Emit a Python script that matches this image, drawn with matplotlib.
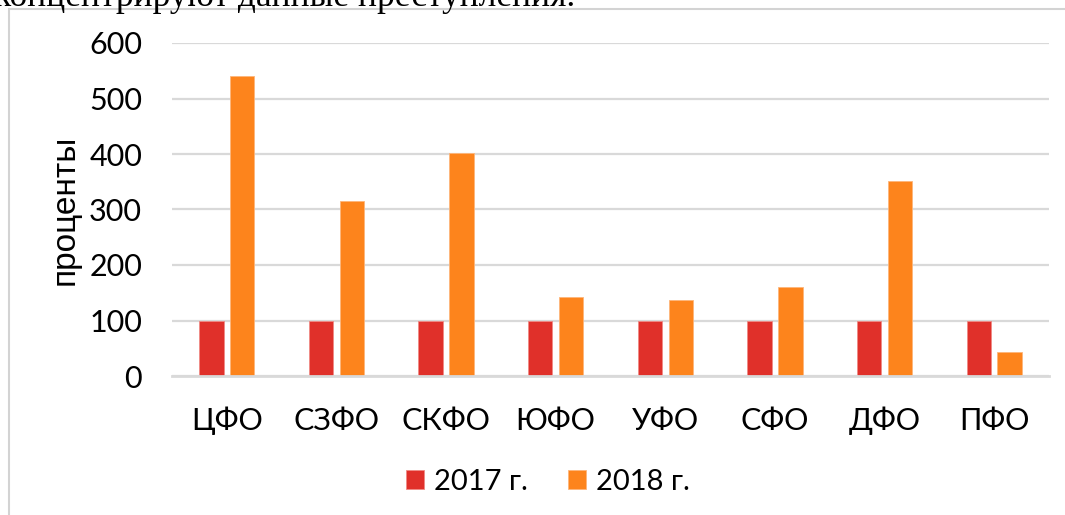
import matplotlib
matplotlib.use("Agg")
import matplotlib.pyplot as plt
from matplotlib.patches import Rectangle
import numpy as np

regions = ["ЦФО", "СЗФО", "СКФО", "ЮФО", "УФО", "СФО", "ДФО", "ПФО"]
values_2017 = [100, 100, 100, 100, 100, 100, 100, 100]
values_2018 = [541, 315, 401, 143, 137, 160, 351, 43]
series_names = ["2017 г.", "2018 г."]
yticks = [0, 100, 200, 300, 400, 500, 600]

RED = "#E0302A"
ORANGE = "#FD841C"
GRID = "#D9D9D9"
W, H = 1065, 515

fig = plt.figure(figsize=(W / 100, H / 100), dpi=100)

# frame of the embedded chart (cut off on the right and bottom)
fig.patches.append(Rectangle((8.5 / W, -0.1), 1.2, 1 - 9.5 / H + 0.1,
                             transform=fig.transFigure, fill=False,
                             edgecolor="#D3D3D3", linewidth=1.5))

# tail of the paragraph above the chart, cut by the top edge
fig.text(575 / W, 1 - 6 / H, "концентрируют данные преступления.",
         ha="right", va="baseline", fontsize=25.5,
         family="Liberation Serif", color="black")

ax = fig.add_axes([172 / W, 1 - 376 / H, 877 / W, 333 / H])
x = np.arange(len(regions))
bw = 0.223
off = 0.141
ax.bar(x - off, values_2017, bw, color=RED, edgecolor="#F08A85",
       linewidth=0.6, label=series_names[0], zorder=3)
ax.bar(x + off, values_2018, bw, color=ORANGE, edgecolor="#FDB67A",
       linewidth=0.6, label=series_names[1], zorder=3)

ax.set_xlim(-0.5, len(regions) - 0.5)
ax.set_ylim(0, 600)
ax.set_yticks(yticks)
ax.set_xticks(x)
ax.set_xticklabels(regions)
ax.grid(axis="y", color=GRID, linewidth=1.6, zorder=0)
for s in ["top", "right", "left"]:
    ax.spines[s].set_visible(False)
ax.spines["bottom"].set_color(GRID)
ax.spines["bottom"].set_linewidth(2)
ax.spines["bottom"].set_zorder(4)
ax.tick_params(axis="both", length=0, labelsize=22, colors="black")
ax.tick_params(axis="y", pad=21.5)
ax.tick_params(axis="x", pad=22)
for lab in ax.get_xticklabels() + ax.get_yticklabels():
    lab.set_family("Lato")

ax.set_ylabel("проценты", fontsize=24, family="Liberation Sans", labelpad=6)

fig.legend(loc="center", bbox_to_anchor=(548 / W, 1 - 482 / H), ncol=2,
           frameon=False, prop={"family": "Lato", "size": 21},
           handlelength=0.6, handleheight=0.6, handletextpad=0.35,
           columnspacing=1.4)

fig.savefig("out.png", dpi=100)
